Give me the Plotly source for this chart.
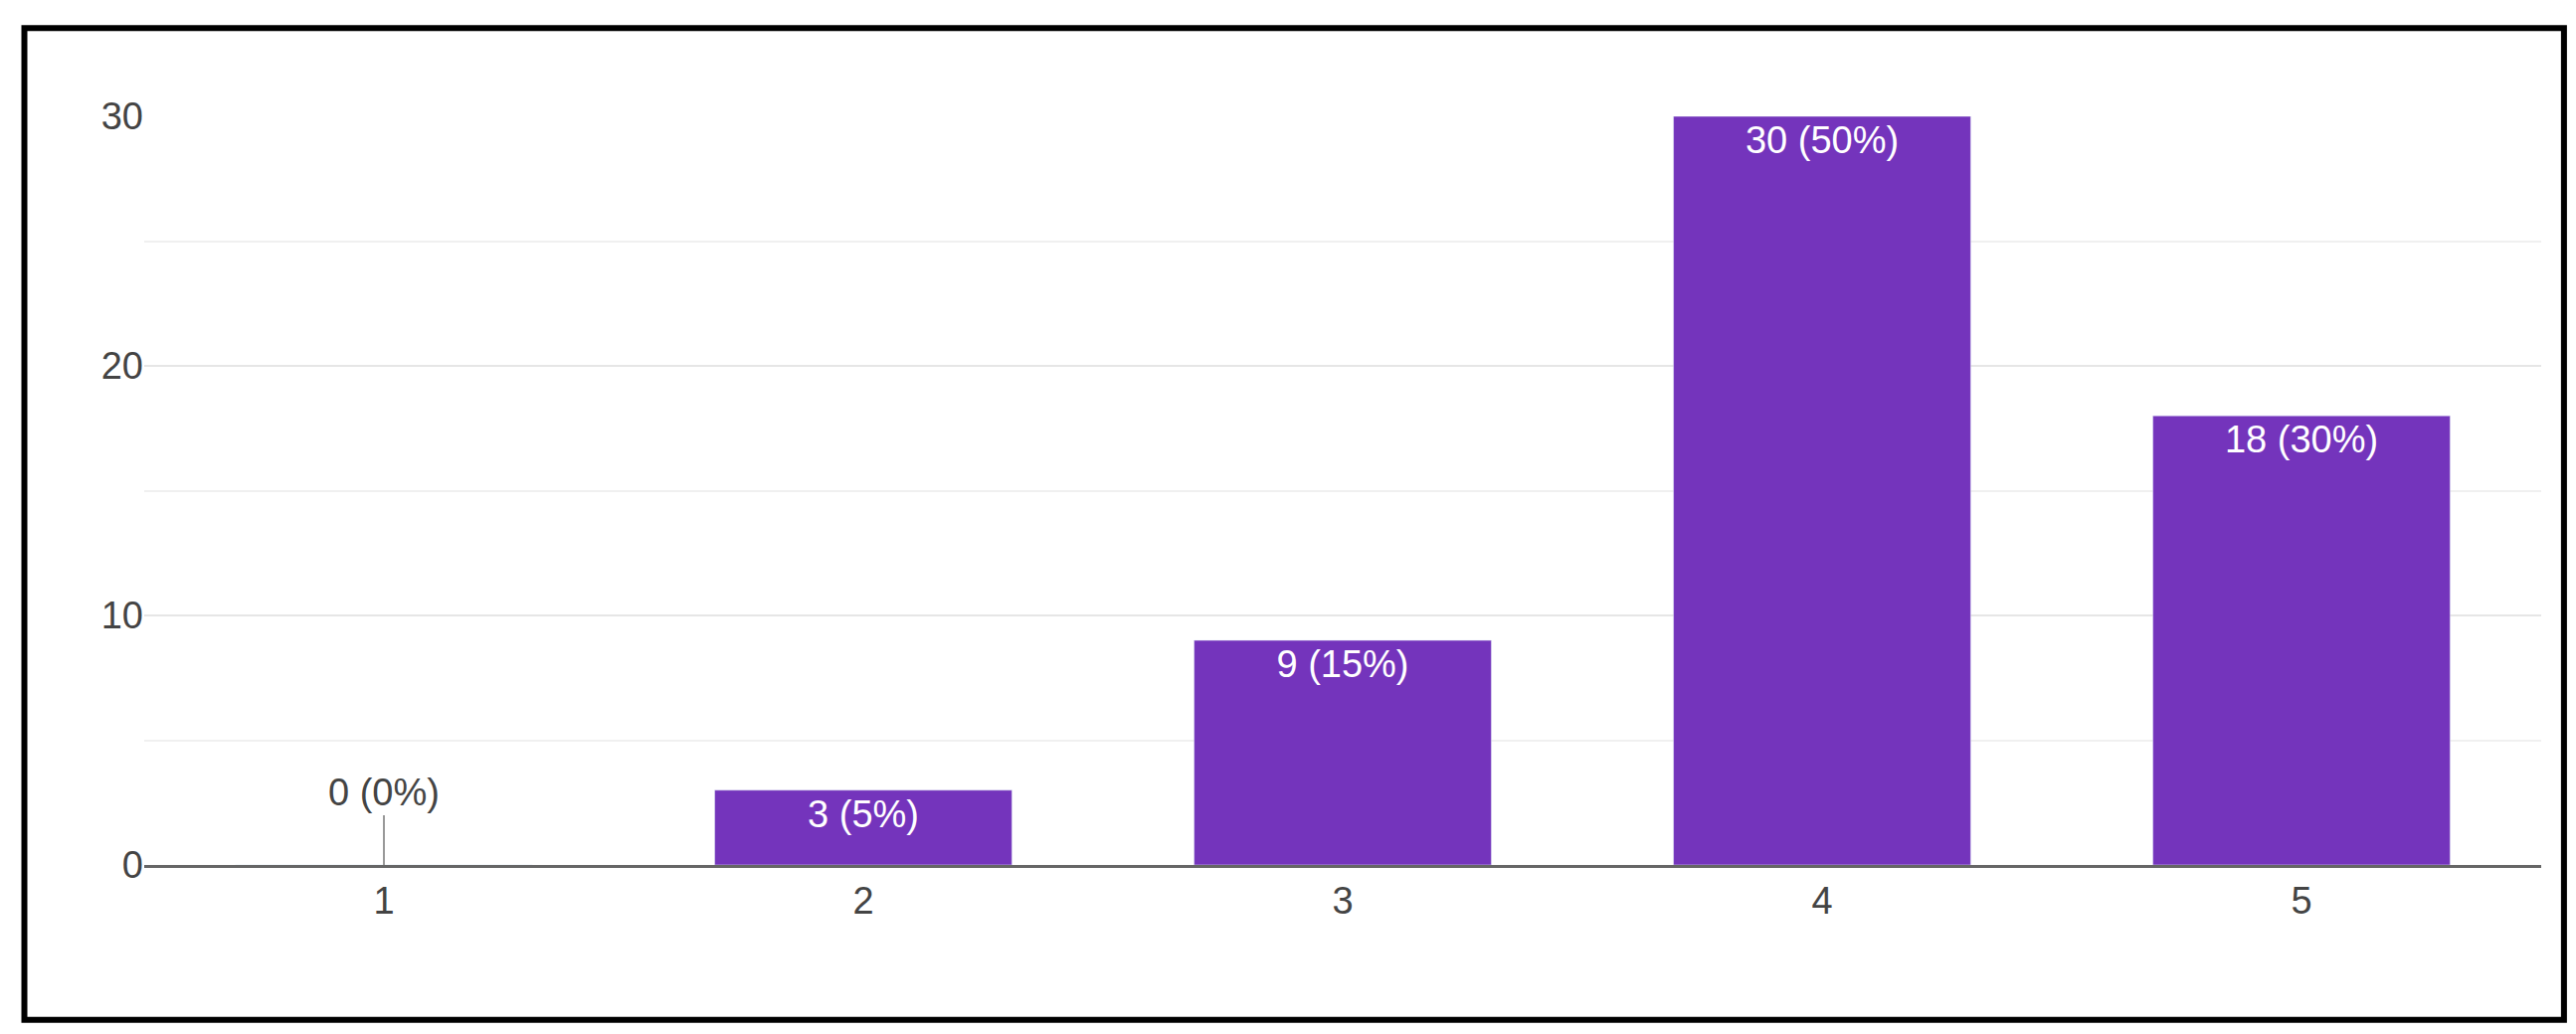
import plotly.graph_objects as go

categories = ["1", "2", "3", "4", "5"]
counts = [0, 3, 9, 30, 18]
labels = ["0 (0%)", "3 (5%)", "9 (15%)", "30 (50%)", "18 (30%)"]

fig = go.Figure(go.Bar(
    x=categories, y=counts, width=0.62, marker_color="#7434BC",
    text=[l if c > 0 else "" for l, c in zip(labels, counts)],
    textposition="inside", insidetextanchor="end",
    textfont=dict(color="white", size=38, family="Liberation Sans"),
    cliponaxis=False,
))
# zero bar label with leader line (x given as category index)
for i, (c, l) in enumerate(zip(counts, labels)):
    if c == 0:
        fig.add_annotation(x=i, y=c, text=l, showarrow=True, arrowhead=0,
                           arrowcolor="#999", arrowwidth=2, ax=0, ay=-50,
                           font=dict(size=38, color="#444", family="Liberation Sans"),
                           yanchor="bottom")
fig.update_layout(
    width=2590, height=1040, margin=dict(l=137, r=43, t=109, b=178),
    plot_bgcolor="white", paper_bgcolor="white", showlegend=False,
    font=dict(family="Liberation Sans", size=38, color="#444"),
)
fig.update_yaxes(range=[0, 30], tickvals=[0, 10, 20, 30], gridcolor="#e6e6e6", gridwidth=2,
                 minor=dict(dtick=5, showgrid=True, gridcolor="#f0f0f0", gridwidth=2),
                 zeroline=False, ticklen=0, ticks="", tickfont=dict(size=38, color="#444"))
fig.update_xaxes(showline=True, linecolor="#666", linewidth=3, ticks="",
                 tickfont=dict(size=38, color="#444"))
fig.add_shape(type="rect", xref="paper", yref="paper", x0=-0.05, x1=1.0095,
              y0=-0.207, y1=1.118, line=dict(color="black", width=6))
fig.write_html("out.html")
